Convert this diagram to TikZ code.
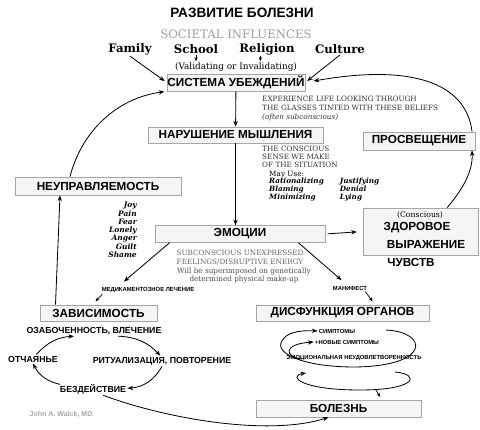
\documentclass[tikz,border=0pt]{standalone}
\usepackage{fontspec}
\setmainfont{DejaVu Serif}
\setsansfont{Liberation Sans}
\usepackage{tikz}
\usetikzlibrary{arrows.meta,positioning,calc}
\newcommand{\tam}[2]{\fontsize{#1}{#2}\selectfont}
\tikzset{
    bloco/.style={
        rectangle,
        draw=gray!70,
        fill=gray!8,
        line width=0.6pt,
        inner sep=0pt,
        font=\sffamily\bfseries\tam{10}{12}
    },
    seta/.style={-{Stealth[length=1.7mm,width=1.3mm]}, line width=0.7pt},
    setaCurta/.style={-{Stealth[length=1.2mm,width=1mm]}, line width=0.6pt},
    influencia/.style={font=\bfseries\tam{10}{12}, inner sep=1pt},
    nota/.style={font=\tam{6.2}{7.7}, align=left, inner sep=0pt},
    ciclo/.style={font=\sffamily\bfseries\tam{7.5}{9}, inner sep=1pt},
    miudo/.style={font=\sffamily\bfseries\tam{5}{6}, inner sep=1pt}
}

\begin{document}
\begin{tikzpicture}[x=0.03cm, y=-0.03cm]
    \useasboundingbox (0,0) rectangle (480,430);

    % titulo e influencias
    \node[font=\sffamily\bfseries\tam{11.6}{14}] (titulo) at (242,13) {РАЗВИТИЕ БОЛЕЗНИ};
    \node[font=\tam{10}{12}, text=gray!75] (influencias) at (236,34) {SOCIETAL INFLUENCES};
    \node[influencia] (familia) at (130,49) {Family};
    \node[influencia] (escola) at (196,49) {School};
    \node[influencia] (religiao) at (267,49) {Religion};
    \node[influencia] (cultura) at (340,49) {Culture};
    \node[font=\tam{7.6}{9}, inner sep=1pt] (validacao) at (236,67) {(Validating or Invalidating)};

    % blocos
    \node[bloco, minimum width=4.14cm, minimum height=0.51cm] (sistema) at (236,82.5) {СИСТЕМА УБЕЖДЕНИЙ};
    \node[bloco, minimum width=5.25cm, minimum height=0.48cm] (mente) at (235.5,135) {НАРУШЕНИЕ МЫШЛЕНИЯ};
    \node[bloco, minimum width=3.36cm, minimum height=0.54cm] (luz) at (419,141) {ПРОСВЕЩЕНИЕ};
    \node[bloco, minimum width=4.98cm, minimum height=0.54cm] (descontrole) at (98,186) {НЕУПРАВЛЯЕМОСТЬ};
    \node[bloco, minimum width=5.1cm, minimum height=0.5cm] (emocoes) at (240,234) {ЭМОЦИИ};
    \node[bloco, minimum width=3.45cm, minimum height=1.41cm] (saude) at (420.5,231.5) {};
    \node[bloco, minimum width=3.51cm, minimum height=0.48cm] (vicio) at (98.5,313) {ЗАВИСИМОСТЬ};
    \node[bloco, minimum width=5.19cm, minimum height=0.48cm] (orgaos) at (342.5,313) {ДИСФУНКЦИЯ ОРГАНОВ};
    \node[bloco, minimum width=4.95cm, minimum height=0.51cm] (doenca) at (338.5,408.5) {БОЛЕЗНЬ};

    % textos do bloco saude
    \node[font=\tam{6.6}{8}, inner sep=1pt] (consciente) at (420,215) {(Conscious)};
    \node[font=\sffamily\bfseries\tam{10}{12}, inner sep=1pt] (zdorovoe) at (417,228) {ЗДОРОВОЕ};
    \node[font=\sffamily\bfseries\tam{10}{12}, inner sep=1pt] (vyrazhenie) at (426,244) {ВЫРАЖЕНИЕ};
    \node[font=\sffamily\bfseries\tam{10}{12}, inner sep=1pt] (chuvstv) at (411,262) {ЧУВСТВ};

    % notas
    \node[nota, anchor=north west, text=black!80] (lentes) at (262,96)
        {EXPERIENCE LIFE LOOKING THROUGH\\THE GLASSES TINTED WITH THESE BELIEFS\\\textit{(often subconscious)}};
    \node[nota, anchor=north west, font=\tam{6.2}{6.9}, text=black!80] (sentido) at (262,146)
        {THE CONSCIOUS\\SENSE WE MAKE\\OF THE SITUATION};
    \node[nota, anchor=north west] (usos) at (269,171)
        {May Use:\\[-1.2pt]
         \bfseries\itshape\tam{6.2}{6.5}%
         \begin{tabular}{@{}p{2.12cm}@{}l@{}}
         Rationalizing & Justifying\\
         Blaming & Denial\\
         Minimizing & Lying
         \end{tabular}};
    \node[nota, anchor=north east, align=right, font=\bfseries\itshape\tam{6.4}{7.1}] (lista) at (137,202)
        {Joy\\Pain\\Fear\\Lonely\\Anger\\Guilt\\Shame};
    \node[nota, align=center, text=black!60] (energia) at (240,258)
        {SUBCONSCIOUS UNEXPRESSED\\FEELINGS/DISRUPTIVE ENERGY};
    \node[nota, align=center, font=\tam{6.2}{6.9}, text=black!70] (genetica) at (244,276)
        {Will be superimposed on genetically\\determined physical make-up};
    \node[miudo] (remedio) at (148,290) {МЕДИКАМЕНТОЗНОЕ ЛЕЧЕНИЕ};
    \node[miudo] (manifesto) at (350,288) {МАНИФЕСТ};

    % ciclo da dependencia
    \node[ciclo] (obsessao) at (94,331) {ОЗАБОЧЕННОСТЬ, ВЛЕЧЕНИЕ};
    \node[ciclo] (desespero) at (33,359) {ОТЧАЯНЬЕ};
    \node[ciclo] (ritual) at (162,361) {РИТУАЛИЗАЦИЯ, ПОВТОРЕНИЕ};
    \node[ciclo] (inacao) at (93,389) {БЕЗДЕЙСТВИЕ};
    \node[font=\sffamily\bfseries\tam{6}{7}, text=gray!70] (autor) at (62,414) {John A. Walck, MD.};

    % espiral dos sintomas
    \node[miudo] (sintomas) at (337,331) {СИМПТОМЫ};
    \node[miudo] (novos) at (347,342) {+НОВЫЕ СИМПТОМЫ};
    \node[miudo] (insatisfacao) at (354,358) {ЭМОЦИОНАЛЬНАЯ НЕУДОВЛЕТВОРЕННОСТЬ};

    % conexoes
    \draw[setaCurta] (escola.south) -- (escola.south |- validacao.north);
    \draw[setaCurta] ([xshift=-0.2cm]religiao.south) -- ([xshift=-0.2cm]religiao.south |- validacao.north);
    \draw[seta, shorten >=2pt] (familia.south) -- (sistema.west);
    \draw[seta, shorten >=2pt] (cultura.south) -- (sistema.east);
    \draw[seta] (sistema) -- (mente);
    \draw[seta] (mente.south) -- (mente.south |- emocoes.north);
    \draw[seta, shorten <=2pt, shorten >=5pt] (emocoes.east) -- (saude.west);
    \draw[seta] ([xshift=0.8cm]saude.north) .. controls (462,190) and (473,172) .. ([xshift=-0.1cm]luz.south east);
    \draw[seta, shorten >=0.25cm] ([xshift=-0.1cm]luz.north east) .. controls (466,82) and (410,64) .. (sistema.east);
    \draw[seta, shorten >=2pt] ([xshift=-0.84cm]descontrole.north) .. controls (82,130) and (118,98) .. (sistema.south west);
    \draw[seta] ([xshift=-1.29cm]vicio.north) -- ([xshift=-1.14cm]descontrole.south);
    \draw[seta, shorten >=0.2cm] ([xshift=0.45cm]emocoes.south west) -- ([xshift=0.55cm]remedio.north west);
    \draw[setaCurta] ([xshift=0.06cm]remedio.south west) -- ([xshift=-0.09cm,yshift=0.1cm]vicio.north);
    \draw[seta, shorten >=0.2cm] ([xshift=-0.81cm]emocoes.south east) -- ([xshift=0.45cm]manifesto.north west);
    \draw[setaCurta] ([xshift=-0.1cm]manifesto.south east) -- ([xshift=0.9cm,yshift=0.1cm]orgaos.north);

    \draw[seta] ([xshift=0.72cm]obsessao.south) to[bend left=22] ([xshift=-0.05cm]ritual.north);
    \draw[seta] (ritual.south) to[bend left=28] ([yshift=0.02cm]inacao.east);
    \draw[seta] ([xshift=0.05cm,yshift=-0.05cm]inacao.north west) to[bend left=25] (desespero.south);
    \draw[seta] ([xshift=0.1cm]desespero.north) to[bend left=22] ([xshift=-0.6cm]obsessao.south);

    \draw[seta] ([xshift=0.3cm]inacao.south) .. controls (170,420) and (270,436) .. ([xshift=-0.3cm]doenca.south);

    \draw[seta] (386,330) .. controls (428,332) and (432,366) .. (355,367)
        .. controls (300,367) and (274,352) .. (282,341)
        .. controls (286,333) and (298,330) .. (sintomas.west);
    \draw[seta] (302,359) .. controls (284,357) and (283,344) .. (novos.west);
    \draw[seta] (395,372) .. controls (420,374) and (418,390) .. (360,390)
        .. controls (300,390) and (288,376) .. (306,373);
    \draw[setaCurta] (376,390) -- ([xshift=1.25cm,yshift=0.08cm]doenca.north);
\end{tikzpicture}
\end{document}
